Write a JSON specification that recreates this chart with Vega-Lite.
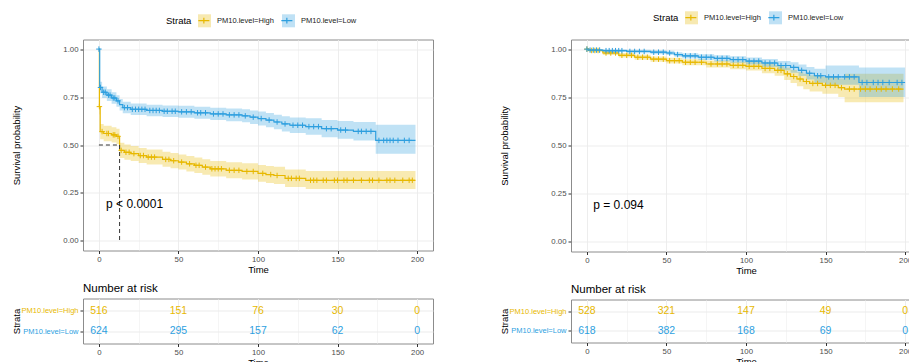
{
"$schema": "https://vega.github.io/schema/vega-lite/v6.json",
"padding": {"left": 10, "top": 9.5, "right": 0, "bottom": 0},
"config": {
 "font": "Liberation Sans",
 "view": {"stroke": "#8C8C8C", "strokeWidth": 1},
 "axis": {"grid": true, "gridColor": "#EBEBEB", "domain": false, "tickColor": "#333333", "tickSize": 3, "labelFontSize": 7.8, "labelColor": "#4D4D4D", "labelPadding": 2, "titleFontSize": 9.5, "titleFontWeight": "normal", "titleColor": "#000000", "titlePadding": 1},
 "legend": {"labelFontSize": 7.5, "labelColor": "#222222", "titleFontSize": 9.5, "titleFontWeight": "normal", "titleColor": "#000000"},
 "title": {"fontWeight": "normal", "color": "#000000"}
},
"datasets": {
 "kmL": [
  {"strata": "PM10.level=High", "time": 0, "surv": 1, "lower": 1, "upper": 1},
  {"strata": "PM10.level=High", "time": 0.3, "surv": 0.70, "lower": 0.66, "upper": 0.74},
  {"strata": "PM10.level=High", "time": 0.8, "surv": 0.57, "lower": 0.53, "upper": 0.61},
  {"strata": "PM10.level=High", "time": 3, "surv": 0.56, "lower": 0.52, "upper": 0.60},
  {"strata": "PM10.level=High", "time": 8, "surv": 0.553, "lower": 0.513, "upper": 0.593},
  {"strata": "PM10.level=High", "time": 11, "surv": 0.545, "lower": 0.505, "upper": 0.585},
  {"strata": "PM10.level=High", "time": 13, "surv": 0.472, "lower": 0.432, "upper": 0.512},
  {"strata": "PM10.level=High", "time": 16, "surv": 0.462, "lower": 0.423, "upper": 0.502},
  {"strata": "PM10.level=High", "time": 20, "surv": 0.455, "lower": 0.416, "upper": 0.495},
  {"strata": "PM10.level=High", "time": 25, "surv": 0.445, "lower": 0.406, "upper": 0.485},
  {"strata": "PM10.level=High", "time": 30, "surv": 0.437, "lower": 0.398, "upper": 0.477},
  {"strata": "PM10.level=High", "time": 40, "surv": 0.425, "lower": 0.386, "upper": 0.465},
  {"strata": "PM10.level=High", "time": 45, "surv": 0.418, "lower": 0.379, "upper": 0.458},
  {"strata": "PM10.level=High", "time": 50, "surv": 0.411, "lower": 0.372, "upper": 0.451},
  {"strata": "PM10.level=High", "time": 55, "surv": 0.402, "lower": 0.362, "upper": 0.443},
  {"strata": "PM10.level=High", "time": 60, "surv": 0.394, "lower": 0.354, "upper": 0.435},
  {"strata": "PM10.level=High", "time": 65, "surv": 0.385, "lower": 0.345, "upper": 0.426},
  {"strata": "PM10.level=High", "time": 70, "surv": 0.376, "lower": 0.336, "upper": 0.417},
  {"strata": "PM10.level=High", "time": 80, "surv": 0.368, "lower": 0.327, "upper": 0.41},
  {"strata": "PM10.level=High", "time": 90, "surv": 0.362, "lower": 0.32, "upper": 0.405},
  {"strata": "PM10.level=High", "time": 100, "surv": 0.352, "lower": 0.309, "upper": 0.396},
  {"strata": "PM10.level=High", "time": 105, "surv": 0.346, "lower": 0.302, "upper": 0.39},
  {"strata": "PM10.level=High", "time": 110, "surv": 0.341, "lower": 0.297, "upper": 0.386},
  {"strata": "PM10.level=High", "time": 117, "surv": 0.326, "lower": 0.281, "upper": 0.372},
  {"strata": "PM10.level=High", "time": 130, "surv": 0.316, "lower": 0.27, "upper": 0.364},
  {"strata": "PM10.level=High", "time": 199, "surv": 0.316, "lower": 0.27, "upper": 0.364},
  {"strata": "PM10.level=Low", "time": 0, "surv": 1, "lower": 1, "upper": 1},
  {"strata": "PM10.level=Low", "time": 0.5, "surv": 0.80, "lower": 0.77, "upper": 0.83},
  {"strata": "PM10.level=Low", "time": 2, "surv": 0.775, "lower": 0.745, "upper": 0.805},
  {"strata": "PM10.level=Low", "time": 5, "surv": 0.76, "lower": 0.73, "upper": 0.79},
  {"strata": "PM10.level=Low", "time": 8, "surv": 0.745, "lower": 0.715, "upper": 0.775},
  {"strata": "PM10.level=Low", "time": 11, "surv": 0.73, "lower": 0.70, "upper": 0.76},
  {"strata": "PM10.level=Low", "time": 13, "surv": 0.71, "lower": 0.68, "upper": 0.74},
  {"strata": "PM10.level=Low", "time": 15, "surv": 0.695, "lower": 0.665, "upper": 0.725},
  {"strata": "PM10.level=Low", "time": 20, "surv": 0.686, "lower": 0.656, "upper": 0.716},
  {"strata": "PM10.level=Low", "time": 30, "surv": 0.68, "lower": 0.65, "upper": 0.71},
  {"strata": "PM10.level=Low", "time": 40, "surv": 0.676, "lower": 0.646, "upper": 0.706},
  {"strata": "PM10.level=Low", "time": 50, "surv": 0.673, "lower": 0.642, "upper": 0.704},
  {"strata": "PM10.level=Low", "time": 60, "surv": 0.668, "lower": 0.637, "upper": 0.699},
  {"strata": "PM10.level=Low", "time": 70, "surv": 0.662, "lower": 0.63, "upper": 0.694},
  {"strata": "PM10.level=Low", "time": 80, "surv": 0.657, "lower": 0.624, "upper": 0.69},
  {"strata": "PM10.level=Low", "time": 90, "surv": 0.652, "lower": 0.618, "upper": 0.686},
  {"strata": "PM10.level=Low", "time": 95, "surv": 0.645, "lower": 0.61, "upper": 0.68},
  {"strata": "PM10.level=Low", "time": 100, "surv": 0.638, "lower": 0.602, "upper": 0.674},
  {"strata": "PM10.level=Low", "time": 105, "surv": 0.63, "lower": 0.593, "upper": 0.667},
  {"strata": "PM10.level=Low", "time": 110, "surv": 0.62, "lower": 0.582, "upper": 0.658},
  {"strata": "PM10.level=Low", "time": 115, "surv": 0.61, "lower": 0.57, "upper": 0.65},
  {"strata": "PM10.level=Low", "time": 120, "surv": 0.603, "lower": 0.562, "upper": 0.644},
  {"strata": "PM10.level=Low", "time": 130, "surv": 0.596, "lower": 0.553, "upper": 0.639},
  {"strata": "PM10.level=Low", "time": 140, "surv": 0.585, "lower": 0.54, "upper": 0.63},
  {"strata": "PM10.level=Low", "time": 150, "surv": 0.578, "lower": 0.532, "upper": 0.625},
  {"strata": "PM10.level=Low", "time": 160, "surv": 0.571, "lower": 0.523, "upper": 0.62},
  {"strata": "PM10.level=Low", "time": 174, "surv": 0.524, "lower": 0.455, "upper": 0.606},
  {"strata": "PM10.level=Low", "time": 199, "surv": 0.524, "lower": 0.455, "upper": 0.606}
 ],
 "cenL": [
  {"strata": "PM10.level=High", "time": 0.3, "surv": 0.70},
  {"strata": "PM10.level=High", "time": 2, "surv": 0.57},
  {"strata": "PM10.level=High", "time": 5, "surv": 0.56},
  {"strata": "PM10.level=High", "time": 6, "surv": 0.56},
  {"strata": "PM10.level=High", "time": 9, "surv": 0.553},
  {"strata": "PM10.level=High", "time": 10, "surv": 0.553},
  {"strata": "PM10.level=High", "time": 12, "surv": 0.545},
  {"strata": "PM10.level=High", "time": 14, "surv": 0.472},
  {"strata": "PM10.level=High", "time": 17, "surv": 0.462},
  {"strata": "PM10.level=High", "time": 19, "surv": 0.462},
  {"strata": "PM10.level=High", "time": 22, "surv": 0.455},
  {"strata": "PM10.level=High", "time": 26, "surv": 0.445},
  {"strata": "PM10.level=High", "time": 28, "surv": 0.445},
  {"strata": "PM10.level=High", "time": 31, "surv": 0.437},
  {"strata": "PM10.level=High", "time": 33, "surv": 0.437},
  {"strata": "PM10.level=High", "time": 35, "surv": 0.437},
  {"strata": "PM10.level=High", "time": 42, "surv": 0.425},
  {"strata": "PM10.level=High", "time": 44, "surv": 0.425},
  {"strata": "PM10.level=High", "time": 47, "surv": 0.418},
  {"strata": "PM10.level=High", "time": 52, "surv": 0.411},
  {"strata": "PM10.level=High", "time": 57, "surv": 0.402},
  {"strata": "PM10.level=High", "time": 61, "surv": 0.394},
  {"strata": "PM10.level=High", "time": 63, "surv": 0.394},
  {"strata": "PM10.level=High", "time": 67, "surv": 0.385},
  {"strata": "PM10.level=High", "time": 71, "surv": 0.376},
  {"strata": "PM10.level=High", "time": 73, "surv": 0.376},
  {"strata": "PM10.level=High", "time": 75, "surv": 0.376},
  {"strata": "PM10.level=High", "time": 77, "surv": 0.376},
  {"strata": "PM10.level=High", "time": 82, "surv": 0.368},
  {"strata": "PM10.level=High", "time": 85, "surv": 0.368},
  {"strata": "PM10.level=High", "time": 88, "surv": 0.368},
  {"strata": "PM10.level=High", "time": 93, "surv": 0.362},
  {"strata": "PM10.level=High", "time": 97, "surv": 0.362},
  {"strata": "PM10.level=High", "time": 103, "surv": 0.352},
  {"strata": "PM10.level=High", "time": 108, "surv": 0.346},
  {"strata": "PM10.level=High", "time": 112, "surv": 0.341},
  {"strata": "PM10.level=High", "time": 119, "surv": 0.326},
  {"strata": "PM10.level=High", "time": 121, "surv": 0.326},
  {"strata": "PM10.level=High", "time": 124, "surv": 0.326},
  {"strata": "PM10.level=High", "time": 126, "surv": 0.326},
  {"strata": "PM10.level=High", "time": 133, "surv": 0.316},
  {"strata": "PM10.level=High", "time": 135, "surv": 0.316},
  {"strata": "PM10.level=High", "time": 137, "surv": 0.316},
  {"strata": "PM10.level=High", "time": 141, "surv": 0.316},
  {"strata": "PM10.level=High", "time": 143, "surv": 0.316},
  {"strata": "PM10.level=High", "time": 148, "surv": 0.316},
  {"strata": "PM10.level=High", "time": 150, "surv": 0.316},
  {"strata": "PM10.level=High", "time": 154, "surv": 0.316},
  {"strata": "PM10.level=High", "time": 156, "surv": 0.316},
  {"strata": "PM10.level=High", "time": 160, "surv": 0.316},
  {"strata": "PM10.level=High", "time": 165, "surv": 0.316},
  {"strata": "PM10.level=High", "time": 170, "surv": 0.316},
  {"strata": "PM10.level=High", "time": 172, "surv": 0.316},
  {"strata": "PM10.level=High", "time": 176, "surv": 0.316},
  {"strata": "PM10.level=High", "time": 181, "surv": 0.316},
  {"strata": "PM10.level=High", "time": 183, "surv": 0.316},
  {"strata": "PM10.level=High", "time": 186, "surv": 0.316},
  {"strata": "PM10.level=High", "time": 191, "surv": 0.316},
  {"strata": "PM10.level=High", "time": 195, "surv": 0.316},
  {"strata": "PM10.level=High", "time": 197, "surv": 0.316},
  {"strata": "PM10.level=Low", "time": 0, "surv": 1.0},
  {"strata": "PM10.level=Low", "time": 1, "surv": 0.80},
  {"strata": "PM10.level=Low", "time": 3, "surv": 0.775},
  {"strata": "PM10.level=Low", "time": 4, "surv": 0.775},
  {"strata": "PM10.level=Low", "time": 6, "surv": 0.76},
  {"strata": "PM10.level=Low", "time": 7, "surv": 0.76},
  {"strata": "PM10.level=Low", "time": 9, "surv": 0.745},
  {"strata": "PM10.level=Low", "time": 10, "surv": 0.745},
  {"strata": "PM10.level=Low", "time": 12, "surv": 0.73},
  {"strata": "PM10.level=Low", "time": 16, "surv": 0.695},
  {"strata": "PM10.level=Low", "time": 18, "surv": 0.695},
  {"strata": "PM10.level=Low", "time": 21, "surv": 0.686},
  {"strata": "PM10.level=Low", "time": 23, "surv": 0.686},
  {"strata": "PM10.level=Low", "time": 25, "surv": 0.686},
  {"strata": "PM10.level=Low", "time": 27, "surv": 0.686},
  {"strata": "PM10.level=Low", "time": 29, "surv": 0.686},
  {"strata": "PM10.level=Low", "time": 32, "surv": 0.68},
  {"strata": "PM10.level=Low", "time": 34, "surv": 0.68},
  {"strata": "PM10.level=Low", "time": 36, "surv": 0.68},
  {"strata": "PM10.level=Low", "time": 38, "surv": 0.68},
  {"strata": "PM10.level=Low", "time": 41, "surv": 0.676},
  {"strata": "PM10.level=Low", "time": 43, "surv": 0.676},
  {"strata": "PM10.level=Low", "time": 46, "surv": 0.676},
  {"strata": "PM10.level=Low", "time": 48, "surv": 0.676},
  {"strata": "PM10.level=Low", "time": 52, "surv": 0.673},
  {"strata": "PM10.level=Low", "time": 55, "surv": 0.673},
  {"strata": "PM10.level=Low", "time": 58, "surv": 0.673},
  {"strata": "PM10.level=Low", "time": 62, "surv": 0.668},
  {"strata": "PM10.level=Low", "time": 64, "surv": 0.668},
  {"strata": "PM10.level=Low", "time": 67, "surv": 0.668},
  {"strata": "PM10.level=Low", "time": 72, "surv": 0.662},
  {"strata": "PM10.level=Low", "time": 75, "surv": 0.662},
  {"strata": "PM10.level=Low", "time": 78, "surv": 0.662},
  {"strata": "PM10.level=Low", "time": 82, "surv": 0.657},
  {"strata": "PM10.level=Low", "time": 85, "surv": 0.657},
  {"strata": "PM10.level=Low", "time": 88, "surv": 0.657},
  {"strata": "PM10.level=Low", "time": 92, "surv": 0.652},
  {"strata": "PM10.level=Low", "time": 97, "surv": 0.645},
  {"strata": "PM10.level=Low", "time": 102, "surv": 0.638},
  {"strata": "PM10.level=Low", "time": 107, "surv": 0.63},
  {"strata": "PM10.level=Low", "time": 112, "surv": 0.62},
  {"strata": "PM10.level=Low", "time": 117, "surv": 0.61},
  {"strata": "PM10.level=Low", "time": 122, "surv": 0.603},
  {"strata": "PM10.level=Low", "time": 125, "surv": 0.603},
  {"strata": "PM10.level=Low", "time": 128, "surv": 0.603},
  {"strata": "PM10.level=Low", "time": 132, "surv": 0.596},
  {"strata": "PM10.level=Low", "time": 135, "surv": 0.596},
  {"strata": "PM10.level=Low", "time": 138, "surv": 0.596},
  {"strata": "PM10.level=Low", "time": 143, "surv": 0.585},
  {"strata": "PM10.level=Low", "time": 146, "surv": 0.585},
  {"strata": "PM10.level=Low", "time": 152, "surv": 0.578},
  {"strata": "PM10.level=Low", "time": 155, "surv": 0.578},
  {"strata": "PM10.level=Low", "time": 163, "surv": 0.571},
  {"strata": "PM10.level=Low", "time": 165, "surv": 0.571},
  {"strata": "PM10.level=Low", "time": 168, "surv": 0.571},
  {"strata": "PM10.level=Low", "time": 171, "surv": 0.571},
  {"strata": "PM10.level=Low", "time": 176, "surv": 0.524},
  {"strata": "PM10.level=Low", "time": 179, "surv": 0.524},
  {"strata": "PM10.level=Low", "time": 181, "surv": 0.524},
  {"strata": "PM10.level=Low", "time": 183, "surv": 0.524},
  {"strata": "PM10.level=Low", "time": 185, "surv": 0.524},
  {"strata": "PM10.level=Low", "time": 188, "surv": 0.524},
  {"strata": "PM10.level=Low", "time": 192, "surv": 0.524},
  {"strata": "PM10.level=Low", "time": 195, "surv": 0.524}
 ],
 "medL": [
  {"x": 0, "x2": 13, "y": 0.5, "y2": 0.5},
  {"x": 13, "x2": 13, "y": 0.5, "y2": 0}
 ],
 "pL": [{"time": 4.5, "surv": 0.19, "label": "p < 0.0001"}],
 "riskL": [
  {"strata": "PM10.level=High", "time": 0, "n": 516},
  {"strata": "PM10.level=High", "time": 50, "n": 151},
  {"strata": "PM10.level=High", "time": 100, "n": 76},
  {"strata": "PM10.level=High", "time": 150, "n": 30},
  {"strata": "PM10.level=High", "time": 200, "n": 0},
  {"strata": "PM10.level=Low", "time": 0, "n": 624},
  {"strata": "PM10.level=Low", "time": 50, "n": 295},
  {"strata": "PM10.level=Low", "time": 100, "n": 157},
  {"strata": "PM10.level=Low", "time": 150, "n": 62},
  {"strata": "PM10.level=Low", "time": 200, "n": 0}
 ],
 "kmR": [
  {"strata": "PM10.level=High", "time": 0, "surv": 1, "lower": 1, "upper": 1},
  {"strata": "PM10.level=High", "time": 1, "surv": 0.993, "lower": 0.985, "upper": 1},
  {"strata": "PM10.level=High", "time": 10, "surv": 0.98, "lower": 0.97, "upper": 0.99},
  {"strata": "PM10.level=High", "time": 20, "surv": 0.968, "lower": 0.956, "upper": 0.98},
  {"strata": "PM10.level=High", "time": 30, "surv": 0.958, "lower": 0.945, "upper": 0.971},
  {"strata": "PM10.level=High", "time": 40, "surv": 0.948, "lower": 0.934, "upper": 0.962},
  {"strata": "PM10.level=High", "time": 50, "surv": 0.94, "lower": 0.925, "upper": 0.955},
  {"strata": "PM10.level=High", "time": 60, "surv": 0.932, "lower": 0.916, "upper": 0.948},
  {"strata": "PM10.level=High", "time": 75, "surv": 0.923, "lower": 0.905, "upper": 0.941},
  {"strata": "PM10.level=High", "time": 90, "surv": 0.916, "lower": 0.896, "upper": 0.936},
  {"strata": "PM10.level=High", "time": 100, "surv": 0.911, "lower": 0.889, "upper": 0.933},
  {"strata": "PM10.level=High", "time": 110, "surv": 0.9, "lower": 0.875, "upper": 0.925},
  {"strata": "PM10.level=High", "time": 118, "surv": 0.89, "lower": 0.862, "upper": 0.918},
  {"strata": "PM10.level=High", "time": 124, "surv": 0.872, "lower": 0.84, "upper": 0.904},
  {"strata": "PM10.level=High", "time": 128, "surv": 0.858, "lower": 0.824, "upper": 0.892},
  {"strata": "PM10.level=High", "time": 132, "surv": 0.845, "lower": 0.808, "upper": 0.882},
  {"strata": "PM10.level=High", "time": 136, "surv": 0.832, "lower": 0.792, "upper": 0.872},
  {"strata": "PM10.level=High", "time": 140, "surv": 0.822, "lower": 0.78, "upper": 0.864},
  {"strata": "PM10.level=High", "time": 148, "surv": 0.812, "lower": 0.768, "upper": 0.856},
  {"strata": "PM10.level=High", "time": 158, "surv": 0.8, "lower": 0.752, "upper": 0.848},
  {"strata": "PM10.level=High", "time": 162, "surv": 0.793, "lower": 0.725, "upper": 0.872},
  {"strata": "PM10.level=High", "time": 199, "surv": 0.793, "lower": 0.725, "upper": 0.872},
  {"strata": "PM10.level=Low", "time": 0, "surv": 1, "lower": 1, "upper": 1},
  {"strata": "PM10.level=Low", "time": 1, "surv": 0.995, "lower": 0.99, "upper": 1},
  {"strata": "PM10.level=Low", "time": 10, "surv": 0.992, "lower": 0.985, "upper": 0.999},
  {"strata": "PM10.level=Low", "time": 25, "surv": 0.988, "lower": 0.979, "upper": 0.997},
  {"strata": "PM10.level=Low", "time": 40, "surv": 0.984, "lower": 0.974, "upper": 0.994},
  {"strata": "PM10.level=Low", "time": 50, "surv": 0.98, "lower": 0.969, "upper": 0.991},
  {"strata": "PM10.level=Low", "time": 55, "surv": 0.972, "lower": 0.96, "upper": 0.984},
  {"strata": "PM10.level=Low", "time": 60, "surv": 0.965, "lower": 0.951, "upper": 0.979},
  {"strata": "PM10.level=Low", "time": 70, "surv": 0.958, "lower": 0.943, "upper": 0.973},
  {"strata": "PM10.level=Low", "time": 80, "surv": 0.952, "lower": 0.936, "upper": 0.968},
  {"strata": "PM10.level=Low", "time": 90, "surv": 0.946, "lower": 0.929, "upper": 0.963},
  {"strata": "PM10.level=Low", "time": 100, "surv": 0.938, "lower": 0.92, "upper": 0.956},
  {"strata": "PM10.level=Low", "time": 110, "surv": 0.928, "lower": 0.907, "upper": 0.949},
  {"strata": "PM10.level=Low", "time": 120, "surv": 0.915, "lower": 0.891, "upper": 0.939},
  {"strata": "PM10.level=Low", "time": 128, "surv": 0.905, "lower": 0.878, "upper": 0.932},
  {"strata": "PM10.level=Low", "time": 133, "surv": 0.89, "lower": 0.86, "upper": 0.92},
  {"strata": "PM10.level=Low", "time": 138, "surv": 0.875, "lower": 0.843, "upper": 0.907},
  {"strata": "PM10.level=Low", "time": 143, "surv": 0.862, "lower": 0.826, "upper": 0.898},
  {"strata": "PM10.level=Low", "time": 150, "surv": 0.856, "lower": 0.815, "upper": 0.915},
  {"strata": "PM10.level=Low", "time": 171, "surv": 0.827, "lower": 0.752, "upper": 0.905},
  {"strata": "PM10.level=Low", "time": 200, "surv": 0.827, "lower": 0.752, "upper": 0.905}
 ],
 "cenR": [
  {"strata": "PM10.level=High", "time": 0, "surv": 1.0},
  {"strata": "PM10.level=High", "time": 3, "surv": 0.993},
  {"strata": "PM10.level=High", "time": 5, "surv": 0.993},
  {"strata": "PM10.level=High", "time": 7, "surv": 0.993},
  {"strata": "PM10.level=High", "time": 12, "surv": 0.98},
  {"strata": "PM10.level=High", "time": 15, "surv": 0.98},
  {"strata": "PM10.level=High", "time": 18, "surv": 0.98},
  {"strata": "PM10.level=High", "time": 22, "surv": 0.968},
  {"strata": "PM10.level=High", "time": 25, "surv": 0.968},
  {"strata": "PM10.level=High", "time": 28, "surv": 0.968},
  {"strata": "PM10.level=High", "time": 32, "surv": 0.958},
  {"strata": "PM10.level=High", "time": 35, "surv": 0.958},
  {"strata": "PM10.level=High", "time": 38, "surv": 0.958},
  {"strata": "PM10.level=High", "time": 42, "surv": 0.948},
  {"strata": "PM10.level=High", "time": 45, "surv": 0.948},
  {"strata": "PM10.level=High", "time": 48, "surv": 0.948},
  {"strata": "PM10.level=High", "time": 52, "surv": 0.94},
  {"strata": "PM10.level=High", "time": 55, "surv": 0.94},
  {"strata": "PM10.level=High", "time": 58, "surv": 0.94},
  {"strata": "PM10.level=High", "time": 62, "surv": 0.932},
  {"strata": "PM10.level=High", "time": 65, "surv": 0.932},
  {"strata": "PM10.level=High", "time": 68, "surv": 0.932},
  {"strata": "PM10.level=High", "time": 72, "surv": 0.932},
  {"strata": "PM10.level=High", "time": 78, "surv": 0.923},
  {"strata": "PM10.level=High", "time": 82, "surv": 0.923},
  {"strata": "PM10.level=High", "time": 85, "surv": 0.923},
  {"strata": "PM10.level=High", "time": 88, "surv": 0.923},
  {"strata": "PM10.level=High", "time": 92, "surv": 0.916},
  {"strata": "PM10.level=High", "time": 95, "surv": 0.916},
  {"strata": "PM10.level=High", "time": 98, "surv": 0.916},
  {"strata": "PM10.level=High", "time": 102, "surv": 0.911},
  {"strata": "PM10.level=High", "time": 105, "surv": 0.911},
  {"strata": "PM10.level=High", "time": 108, "surv": 0.911},
  {"strata": "PM10.level=High", "time": 112, "surv": 0.9},
  {"strata": "PM10.level=High", "time": 115, "surv": 0.9},
  {"strata": "PM10.level=High", "time": 120, "surv": 0.89},
  {"strata": "PM10.level=High", "time": 122, "surv": 0.89},
  {"strata": "PM10.level=High", "time": 126, "surv": 0.872},
  {"strata": "PM10.level=High", "time": 130, "surv": 0.858},
  {"strata": "PM10.level=High", "time": 134, "surv": 0.845},
  {"strata": "PM10.level=High", "time": 138, "surv": 0.832},
  {"strata": "PM10.level=High", "time": 142, "surv": 0.822},
  {"strata": "PM10.level=High", "time": 145, "surv": 0.822},
  {"strata": "PM10.level=High", "time": 150, "surv": 0.812},
  {"strata": "PM10.level=High", "time": 153, "surv": 0.812},
  {"strata": "PM10.level=High", "time": 156, "surv": 0.812},
  {"strata": "PM10.level=High", "time": 160, "surv": 0.8},
  {"strata": "PM10.level=High", "time": 165, "surv": 0.793},
  {"strata": "PM10.level=High", "time": 168, "surv": 0.793},
  {"strata": "PM10.level=High", "time": 172, "surv": 0.793},
  {"strata": "PM10.level=High", "time": 175, "surv": 0.793},
  {"strata": "PM10.level=High", "time": 178, "surv": 0.793},
  {"strata": "PM10.level=High", "time": 182, "surv": 0.793},
  {"strata": "PM10.level=High", "time": 185, "surv": 0.793},
  {"strata": "PM10.level=High", "time": 188, "surv": 0.793},
  {"strata": "PM10.level=High", "time": 192, "surv": 0.793},
  {"strata": "PM10.level=High", "time": 196, "surv": 0.793},
  {"strata": "PM10.level=Low", "time": 0, "surv": 1.0},
  {"strata": "PM10.level=Low", "time": 2, "surv": 0.995},
  {"strata": "PM10.level=Low", "time": 4, "surv": 0.995},
  {"strata": "PM10.level=Low", "time": 6, "surv": 0.995},
  {"strata": "PM10.level=Low", "time": 8, "surv": 0.995},
  {"strata": "PM10.level=Low", "time": 12, "surv": 0.992},
  {"strata": "PM10.level=Low", "time": 14, "surv": 0.992},
  {"strata": "PM10.level=Low", "time": 16, "surv": 0.992},
  {"strata": "PM10.level=Low", "time": 18, "surv": 0.992},
  {"strata": "PM10.level=Low", "time": 20, "surv": 0.992},
  {"strata": "PM10.level=Low", "time": 22, "surv": 0.992},
  {"strata": "PM10.level=Low", "time": 27, "surv": 0.988},
  {"strata": "PM10.level=Low", "time": 30, "surv": 0.988},
  {"strata": "PM10.level=Low", "time": 33, "surv": 0.988},
  {"strata": "PM10.level=Low", "time": 36, "surv": 0.988},
  {"strata": "PM10.level=Low", "time": 42, "surv": 0.984},
  {"strata": "PM10.level=Low", "time": 45, "surv": 0.984},
  {"strata": "PM10.level=Low", "time": 48, "surv": 0.984},
  {"strata": "PM10.level=Low", "time": 52, "surv": 0.98},
  {"strata": "PM10.level=Low", "time": 57, "surv": 0.972},
  {"strata": "PM10.level=Low", "time": 62, "surv": 0.965},
  {"strata": "PM10.level=Low", "time": 65, "surv": 0.965},
  {"strata": "PM10.level=Low", "time": 68, "surv": 0.965},
  {"strata": "PM10.level=Low", "time": 72, "surv": 0.958},
  {"strata": "PM10.level=Low", "time": 75, "surv": 0.958},
  {"strata": "PM10.level=Low", "time": 78, "surv": 0.958},
  {"strata": "PM10.level=Low", "time": 82, "surv": 0.952},
  {"strata": "PM10.level=Low", "time": 85, "surv": 0.952},
  {"strata": "PM10.level=Low", "time": 88, "surv": 0.952},
  {"strata": "PM10.level=Low", "time": 92, "surv": 0.946},
  {"strata": "PM10.level=Low", "time": 95, "surv": 0.946},
  {"strata": "PM10.level=Low", "time": 98, "surv": 0.946},
  {"strata": "PM10.level=Low", "time": 102, "surv": 0.938},
  {"strata": "PM10.level=Low", "time": 105, "surv": 0.938},
  {"strata": "PM10.level=Low", "time": 108, "surv": 0.938},
  {"strata": "PM10.level=Low", "time": 112, "surv": 0.928},
  {"strata": "PM10.level=Low", "time": 115, "surv": 0.928},
  {"strata": "PM10.level=Low", "time": 118, "surv": 0.928},
  {"strata": "PM10.level=Low", "time": 122, "surv": 0.915},
  {"strata": "PM10.level=Low", "time": 125, "surv": 0.915},
  {"strata": "PM10.level=Low", "time": 130, "surv": 0.905},
  {"strata": "PM10.level=Low", "time": 135, "surv": 0.89},
  {"strata": "PM10.level=Low", "time": 140, "surv": 0.875},
  {"strata": "PM10.level=Low", "time": 145, "surv": 0.862},
  {"strata": "PM10.level=Low", "time": 147, "surv": 0.862},
  {"strata": "PM10.level=Low", "time": 152, "surv": 0.856},
  {"strata": "PM10.level=Low", "time": 155, "surv": 0.856},
  {"strata": "PM10.level=Low", "time": 158, "surv": 0.856},
  {"strata": "PM10.level=Low", "time": 162, "surv": 0.856},
  {"strata": "PM10.level=Low", "time": 165, "surv": 0.856},
  {"strata": "PM10.level=Low", "time": 168, "surv": 0.856},
  {"strata": "PM10.level=Low", "time": 173, "surv": 0.827},
  {"strata": "PM10.level=Low", "time": 176, "surv": 0.827},
  {"strata": "PM10.level=Low", "time": 180, "surv": 0.827},
  {"strata": "PM10.level=Low", "time": 183, "surv": 0.827},
  {"strata": "PM10.level=Low", "time": 186, "surv": 0.827},
  {"strata": "PM10.level=Low", "time": 190, "surv": 0.827},
  {"strata": "PM10.level=Low", "time": 195, "surv": 0.827},
  {"strata": "PM10.level=Low", "time": 198, "surv": 0.827}
 ],
 "pR": [{"time": 4, "surv": 0.19, "label": "p = 0.094"}],
 "riskR": [
  {"strata": "PM10.level=High", "time": 0, "n": 528},
  {"strata": "PM10.level=High", "time": 50, "n": 321},
  {"strata": "PM10.level=High", "time": 100, "n": 147},
  {"strata": "PM10.level=High", "time": 150, "n": 49},
  {"strata": "PM10.level=High", "time": 200, "n": 0},
  {"strata": "PM10.level=Low", "time": 0, "n": 618},
  {"strata": "PM10.level=Low", "time": 50, "n": 382},
  {"strata": "PM10.level=Low", "time": 100, "n": 168},
  {"strata": "PM10.level=Low", "time": 150, "n": 69},
  {"strata": "PM10.level=Low", "time": 200, "n": 0}
 ]
},
"spacing": 64,
"resolve": {"scale": {"x": "independent", "y": "independent", "color": "independent", "fill": "independent", "stroke": "independent"}, "legend": {"color": "independent", "fill": "independent", "stroke": "independent"}},
"hconcat": [
 {
  "spacing": 8,
  "resolve": {"scale": {"x": "independent", "y": "independent", "color": "independent", "fill": "independent", "stroke": "independent"}, "legend": {"color": "independent", "fill": "independent", "stroke": "independent"}},
  "vconcat": [
   {
    "width": 350, "height": 211,
    "layer": [
     {
      "data": {"name": "kmL"},
      "mark": {"type": "area", "interpolate": "step-after", "fillOpacity": 0.3},
      "encoding": {
       "x": {"field": "time", "type": "quantitative", "scale": {"domain": [-10, 210], "nice": false, "zero": false},
             "axis": {"title": "Time", "values": [0,25,50,75,100,125,150,175,200], "labelExpr": "datum.value % 50 === 0 ? datum.label : ''", "tickOpacity": {"condition": {"test": "datum.value % 50 === 0", "value": 1}, "value": 0}, "gridWidth": {"condition": {"test": "datum.value % 50 === 0", "value": 0.9}, "value": 0.5}}},
       "y": {"field": "upper", "type": "quantitative", "scale": {"domain": [-0.05, 1.05], "nice": false, "zero": false},
             "axis": {"title": "Survival probability", "values": [0,0.125,0.25,0.375,0.5,0.625,0.75,0.875,1], "labelExpr": "(datum.value * 1000) % 250 === 0 ? format(datum.value, '.2f') : ''", "tickOpacity": {"condition": {"test": "(datum.value * 1000) % 250 === 0", "value": 1}, "value": 0}, "gridWidth": {"condition": {"test": "(datum.value * 1000) % 250 === 0", "value": 0.9}, "value": 0.5}, "minExtent": 60, "maxExtent": 60, "titlePadding": 2}},
       "y2": {"field": "lower"},
       "fill": {"field": "strata", "type": "nominal", "scale": {"domain": ["PM10.level=High", "PM10.level=Low"], "range": ["#E7B800", "#2E9FDF"]},
                "legend": {"title": "Strata", "orient": "none", "legendX": 83, "legendY": -26.5, "padding": 0, "direction": "horizontal", "titleOrient": "left", "titleAnchor": "middle", "titleBaseline": "middle", "titlePadding": 5, "symbolType": "square", "symbolSize": 169, "symbolOpacity": 0.3, "symbolStrokeWidth": 1.2, "symbolStrokeColor": "transparent", "labelOffset": 5, "columnPadding": 5}}
      }
     },
     {
      "data": {"name": "kmL"},
      "mark": {"type": "line", "interpolate": "step-after", "strokeWidth": 1.2},
      "encoding": {
       "x": {"field": "time", "type": "quantitative"},
       "y": {"field": "surv", "type": "quantitative"},
       "stroke": {"field": "strata", "type": "nominal", "scale": {"range": ["#E7B800", "#2E9FDF"]},
                  "legend": {"title": null, "orient": "none", "legendX": 113.35, "legendY": -26.5, "padding": 0, "direction": "horizontal", "symbolType": "M-0.85,0H0.85M0,-0.45V0.45", "symbolSize": 169, "symbolStrokeWidth": 1.2, "symbolFillColor": "transparent", "labelOffset": 5, "columnPadding": 5, "labelOpacity": 0}}
      }
     },
     {
      "data": {"name": "cenL"},
      "mark": {"type": "point", "shape": "M-1,0H1M0,-1V1", "filled": false, "size": 30, "strokeWidth": 1, "opacity": 1},
      "encoding": {
       "x": {"field": "time", "type": "quantitative"},
       "y": {"field": "surv", "type": "quantitative"},
       "stroke": {"field": "strata", "type": "nominal"}
      }
     },
     {
      "data": {"name": "medL"},
      "mark": {"type": "rule", "strokeDash": [4, 3], "color": "#333333", "strokeWidth": 1},
      "encoding": {
       "x": {"field": "x", "type": "quantitative"},
       "x2": {"field": "x2"},
       "y": {"field": "y", "type": "quantitative"},
       "y2": {"field": "y2"}
      }
     },
     {
      "data": {"name": "pL"},
      "mark": {"type": "text", "align": "left", "baseline": "middle", "fontSize": 12, "color": "#000000"},
      "encoding": {
       "x": {"field": "time", "type": "quantitative"},
       "y": {"field": "surv", "type": "quantitative"},
       "text": {"field": "label"}
      }
     }
    ]
   },
   {
    "width": 350, "height": 45,
    "title": {"text": "Number at risk", "anchor": "start", "frame": "group", "fontSize": 11.5, "offset": 4},
    "data": {"name": "riskL"},
    "mark": {"type": "text", "fontSize": 10.5},
    "encoding": {
     "x": {"field": "time", "type": "quantitative", "scale": {"domain": [-10, 210], "nice": false, "zero": false},
           "axis": {"title": "Time", "values": [0,25,50,75,100,125,150,175,200], "labelExpr": "datum.value % 50 === 0 ? datum.label : ''", "tickOpacity": {"condition": {"test": "datum.value % 50 === 0", "value": 1}, "value": 0}, "gridWidth": {"condition": {"test": "datum.value % 50 === 0", "value": 0.9}, "value": 0.5}}},
     "y": {"field": "strata", "type": "nominal", "scale": {"type": "point", "padding": 0.6, "domain": ["PM10.level=High", "PM10.level=Low"]},
           "axis": {"title": "Strata", "labelFontSize": 7.5, "labelColor": {"condition": {"test": "datum.value === 'PM10.level=High'", "value": "#E7B800"}, "value": "#2E9FDF"}, "minExtent": 60, "maxExtent": 60, "titlePadding": 2}},
     "text": {"field": "n", "type": "quantitative"},
     "color": {"field": "strata", "type": "nominal", "scale": {"domain": ["PM10.level=High", "PM10.level=Low"], "range": ["#E7B800", "#2E9FDF"]}, "legend": null}
    }
   }
  ]
 },
 {
  "spacing": 8,
  "resolve": {"scale": {"x": "independent", "y": "independent", "color": "independent", "fill": "independent", "stroke": "independent"}, "legend": {"color": "independent", "fill": "independent", "stroke": "independent"}},
  "vconcat": [
   {
    "width": 350, "height": 212,
    "layer": [
     {
      "data": {"name": "kmR"},
      "mark": {"type": "area", "interpolate": "step-after", "fillOpacity": 0.3},
      "encoding": {
       "x": {"field": "time", "type": "quantitative", "scale": {"domain": [-10, 210], "nice": false, "zero": false},
             "axis": {"title": "Time", "values": [0,25,50,75,100,125,150,175,200], "labelExpr": "datum.value % 50 === 0 ? datum.label : ''", "tickOpacity": {"condition": {"test": "datum.value % 50 === 0", "value": 1}, "value": 0}, "gridWidth": {"condition": {"test": "datum.value % 50 === 0", "value": 0.9}, "value": 0.5}}},
       "y": {"field": "upper", "type": "quantitative", "scale": {"domain": [-0.05, 1.05], "nice": false, "zero": false},
             "axis": {"title": "Survival probability", "values": [0,0.125,0.25,0.375,0.5,0.625,0.75,0.875,1], "labelExpr": "(datum.value * 1000) % 250 === 0 ? format(datum.value, '.2f') : ''", "tickOpacity": {"condition": {"test": "(datum.value * 1000) % 250 === 0", "value": 1}, "value": 0}, "gridWidth": {"condition": {"test": "(datum.value * 1000) % 250 === 0", "value": 0.9}, "value": 0.5}, "minExtent": 60, "maxExtent": 60, "titlePadding": 2}},
       "y2": {"field": "lower"},
       "fill": {"field": "strata", "type": "nominal", "scale": {"domain": ["PM10.level=High", "PM10.level=Low"], "range": ["#E7B800", "#2E9FDF"]},
                "legend": {"title": "Strata", "orient": "none", "legendX": 82, "legendY": -29.5, "padding": 0, "direction": "horizontal", "titleOrient": "left", "titleAnchor": "middle", "titleBaseline": "middle", "titlePadding": 5, "symbolType": "square", "symbolSize": 169, "symbolOpacity": 0.3, "symbolStrokeWidth": 1.2, "symbolStrokeColor": "transparent", "labelOffset": 5, "columnPadding": 5}}
      }
     },
     {
      "data": {"name": "kmR"},
      "mark": {"type": "line", "interpolate": "step-after", "strokeWidth": 1.2},
      "encoding": {
       "x": {"field": "time", "type": "quantitative"},
       "y": {"field": "surv", "type": "quantitative"},
       "stroke": {"field": "strata", "type": "nominal", "scale": {"range": ["#E7B800", "#2E9FDF"]},
                  "legend": {"title": null, "orient": "none", "legendX": 112.35, "legendY": -29.5, "padding": 0, "direction": "horizontal", "symbolType": "M-0.85,0H0.85M0,-0.45V0.45", "symbolSize": 169, "symbolStrokeWidth": 1.2, "symbolFillColor": "transparent", "labelOffset": 5, "columnPadding": 5, "labelOpacity": 0}}
      }
     },
     {
      "data": {"name": "cenR"},
      "mark": {"type": "point", "shape": "M-1,0H1M0,-1V1", "filled": false, "size": 30, "strokeWidth": 1, "opacity": 1},
      "encoding": {
       "x": {"field": "time", "type": "quantitative"},
       "y": {"field": "surv", "type": "quantitative"},
       "stroke": {"field": "strata", "type": "nominal"}
      }
     },
     {
      "data": {"name": "pR"},
      "mark": {"type": "text", "align": "left", "baseline": "middle", "fontSize": 12, "color": "#000000"},
      "encoding": {
       "x": {"field": "time", "type": "quantitative"},
       "y": {"field": "surv", "type": "quantitative"},
       "text": {"field": "label"}
      }
     }
    ]
   },
   {
    "width": 350, "height": 43,
    "title": {"text": "Number at risk", "anchor": "start", "frame": "group", "fontSize": 11.5, "offset": 4},
    "data": {"name": "riskR"},
    "mark": {"type": "text", "fontSize": 10.5},
    "encoding": {
     "x": {"field": "time", "type": "quantitative", "scale": {"domain": [-10, 210], "nice": false, "zero": false},
           "axis": {"title": "Time", "values": [0,25,50,75,100,125,150,175,200], "labelExpr": "datum.value % 50 === 0 ? datum.label : ''", "tickOpacity": {"condition": {"test": "datum.value % 50 === 0", "value": 1}, "value": 0}, "gridWidth": {"condition": {"test": "datum.value % 50 === 0", "value": 0.9}, "value": 0.5}}},
     "y": {"field": "strata", "type": "nominal", "scale": {"type": "point", "padding": 0.6, "domain": ["PM10.level=High", "PM10.level=Low"]},
           "axis": {"title": "Strata", "labelFontSize": 7.5, "labelColor": {"condition": {"test": "datum.value === 'PM10.level=High'", "value": "#E7B800"}, "value": "#2E9FDF"}, "minExtent": 60, "maxExtent": 60, "titlePadding": 2}},
     "text": {"field": "n", "type": "quantitative"},
     "color": {"field": "strata", "type": "nominal", "scale": {"domain": ["PM10.level=High", "PM10.level=Low"], "range": ["#E7B800", "#2E9FDF"]}, "legend": null}
    }
   }
  ]
 }
]
}
